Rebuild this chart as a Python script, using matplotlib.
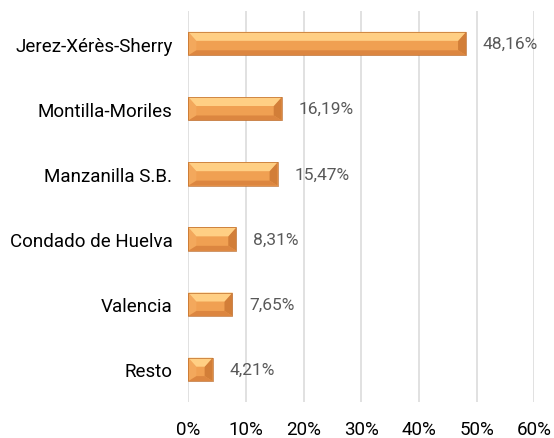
import numpy as np
import matplotlib
matplotlib.use("Agg")
from matplotlib import pyplot as plt
from matplotlib.patches import Polygon

####################################
### data
####################################

categories = ["Jerez-Xérès-Sherry", "Montilla-Moriles", "Manzanilla S.B.",
              "Condado de Huelva", "Valencia", "Resto"]
shares = [48.16, 16.19, 15.47, 8.31, 7.65, 4.21]      ### percent
x_ticks = [0, 10, 20, 30, 40, 50, 60]

####################################
### style
####################################

plt.rcParams["font.family"] = ["Roboto", "DejaVu Sans"]

col_top = "#FFCF84"     ### light upper bevel
col_face = "#F0A052"    ### flat middle face
col_bottom = "#DC8640"  ### darker lower bevel
col_left = "#F3A85C"
col_right = "#D27E38"
col_edge = "#BE6C2A"

fig = plt.figure(figsize=(5.54, 4.39), dpi=100)
ax = fig.add_axes([0.340, 0.082, 0.6245, 0.8907])

y = np.arange(len(categories))
bar_h = 0.36

ax.set_xlim(0, 60)
ax.set_ylim(len(categories) - 0.5, -0.5)

### pixel -> data conversion for the bevel insets
ax_w_px = fig.get_figwidth() * fig.dpi * ax.get_position().width
ax_h_px = fig.get_figheight() * fig.dpi * ax.get_position().height
px_x = 60 / ax_w_px
px_y = len(categories) / ax_h_px

bars = ax.barh(y, shares, height=bar_h, color=col_face, edgecolor="none",
               zorder=3)

for yi, v in zip(y, shares):
    top = yi - bar_h / 2
    bot = yi + bar_h / 2
    dx = min(8 * px_x, v / 2.4)
    it = top + 9 * px_y       ### upper bevel is deeper than the lower one
    ib = bot - 5 * px_y
    il, ir = dx, v - dx
    facets = [
        ([(0, top), (il, it), (il, ib), (0, bot)], col_left),
        ([(v, top), (ir, it), (ir, ib), (v, bot)], col_right),
        ([(0, bot), (v, bot), (ir, ib), (il, ib)], col_bottom),
        ([(0, top), (v, top), (ir, it), (il, it)], col_top),
    ]
    for pts, c in facets:
        ax.add_patch(Polygon(pts, closed=True, facecolor=c, edgecolor="none",
                             zorder=4))
    ax.add_patch(Polygon([(0, top), (v, top), (v, bot), (0, bot)], closed=True,
                         facecolor="none", edgecolor=col_edge, linewidth=0.5,
                         zorder=5))
    ax.annotate(f"{v:.2f}".replace(".", ",") + "%", (v, yi),
                xytext=(12, 0), textcoords="offset points",
                ha="left", va="center", fontsize=12.5, color="#595959")

ax.set_xticks(x_ticks)
ax.set_xticklabels([f"{t}%" for t in x_ticks])
ax.set_yticks(y)
ax.set_yticklabels(categories)

ax.grid(axis="x", color="#D9D9D9", linewidth=1.1, zorder=0)
ax.set_axisbelow(True)
for s in ax.spines.values():
    s.set_visible(False)

ax.tick_params(axis="both", length=0, labelsize=13.5, colors="black")
ax.tick_params(axis="x", pad=13)
ax.tick_params(axis="y", pad=11.5)

plt.savefig("out.png", dpi=100)
